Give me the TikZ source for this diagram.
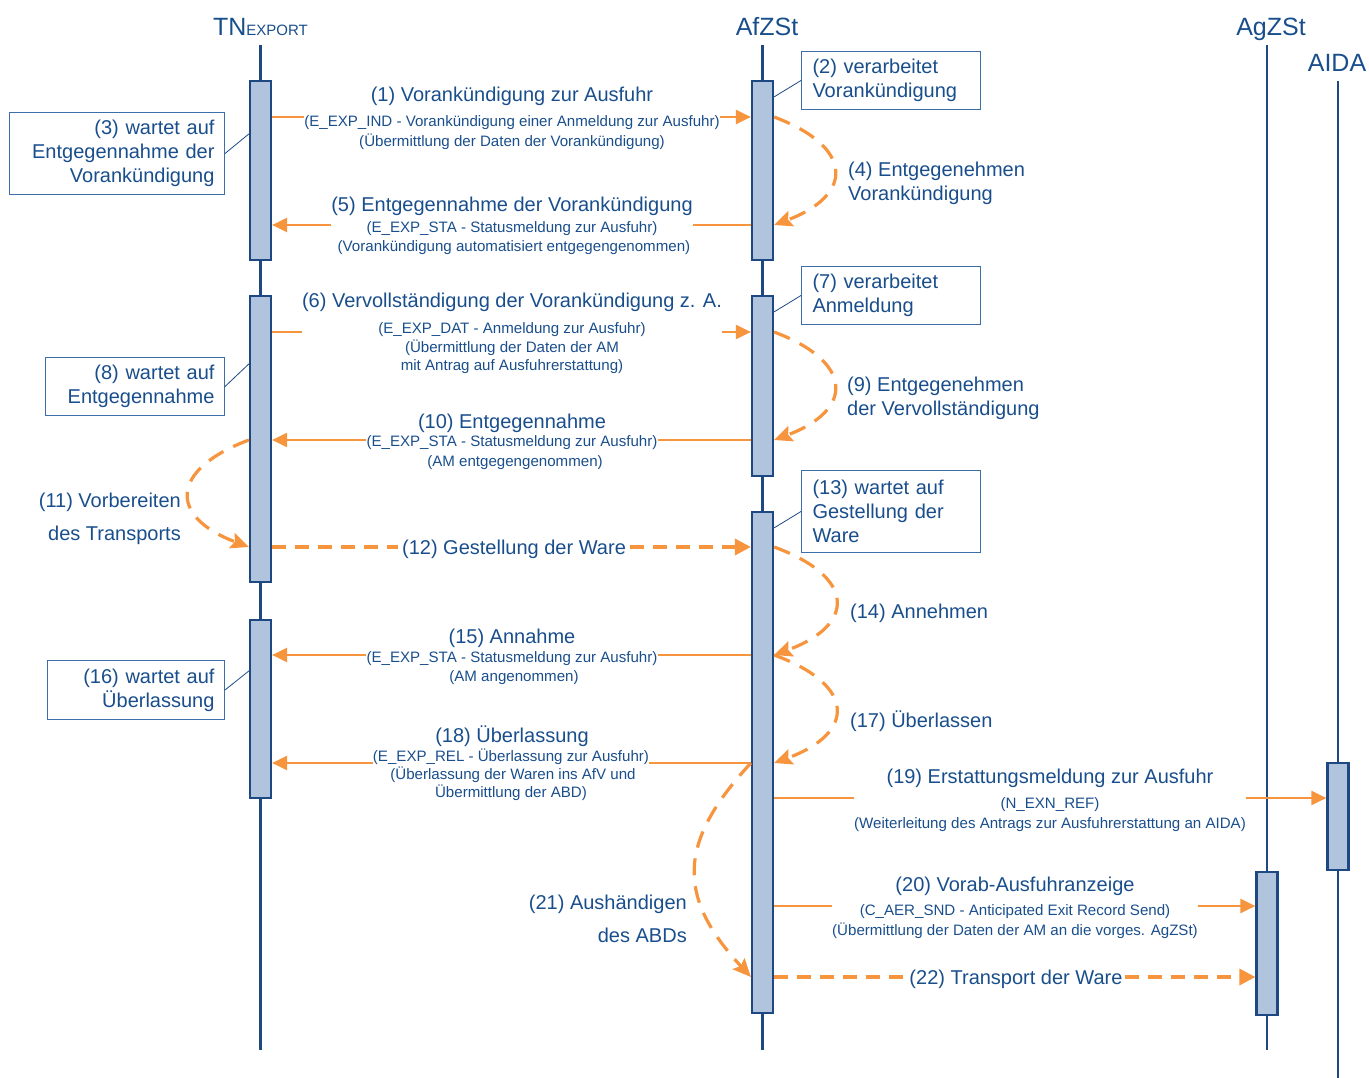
\documentclass[tikz,border=0pt]{standalone}
\usepackage{fontspec}
\setmainfont{Liberation Sans}
\usetikzlibrary{arrows.meta,calc}
\definecolor{txtblue}{RGB}{25,78,140}
\definecolor{lineblue}{RGB}{30,72,130}
\definecolor{actfill}{RGB}{176,196,222}
\definecolor{notebord}{RGB}{60,110,170}
\definecolor{msgorange}{RGB}{247,148,62}

\begin{document}
\begin{tikzpicture}[x=1pt,y=-1pt,
  every node/.style={text=txtblue, inner sep=0pt},
  big/.style={font=\fontsize{20}{24}\selectfont},
  small/.style={font=\fontsize{15.1}{18}\selectfont},
  head/.style={font=\fontsize{25}{30}\selectfont},
  life/.style={draw=lineblue, line width=2.4pt},
  act/.style={draw=lineblue, line width=2.2pt, fill=actfill, minimum width=21pt},
  note/.style={draw=notebord, line width=1pt, fill=white, big, inner xsep=10pt, anchor=north west},
  link/.style={draw=lineblue, line width=0.8pt},
  msg/.style={draw=msgorange, line width=2.2pt},
  msgtip/.style={msg, -{Triangle[length=15pt,width=14pt]}},
  flow/.style={draw=msgorange, line width=3.4pt, dash pattern=on 14pt off 9pt},
  flowtip/.style={flow, -{Triangle[length=16pt,width=16pt]}},
  selfloop/.style={draw=msgorange, line width=3.2pt, dash pattern=on 17pt off 11pt, -{Stealth[length=18pt,width=16pt,inset=3pt]}},
]
\useasboundingbox (0,0) rectangle (1369,1078);

% participants
\node[head, anchor=base] (hTN) at (260.5,36) {TN{\fontsize{15}{18}\selectfont EXPORT}};
\node[head, anchor=base] (hAf) at (767,36) {AfZSt};
\node[head, anchor=base] (hAg) at (1271,36) {AgZSt};
\node[head, anchor=base] (hAI) at (1337,72) {AIDA};

% lifelines
\coordinate (lTN) at (260.5,45);
\coordinate (lAf) at (762.5,45);
\coordinate (lAg) at (1267,45);
\coordinate (lAI) at (1338,81);
\coordinate (bot) at (0,1050);
\coordinate (bot2) at (0,1078);
\draw[life] (lTN) -- (lTN |- bot);
\draw[life] (lAf) -- (lAf |- bot);
\draw[life] (lAg) -- (lAg |- bot);
\draw[life] (lAI) -- (lAI |- bot2);

% activation bars
\node[act, minimum height=179pt] (a1) at (260.5,170.5) {};
\node[act, minimum height=286pt] (a2) at (260.5,439) {};
\node[act, minimum height=178pt] (a3) at (260.5,709) {};
\node[act, minimum height=179pt] (b1) at (762.5,170.5) {};
\node[act, minimum height=180pt] (b2) at (762.5,386) {};
\node[act, minimum height=501pt] (b3) at (762.5,762.5) {};
\node[act, minimum height=143pt] (c1) at (1267,943.5) {};
\node[act, minimum height=107pt] (d1) at (1338,816.5) {};

% message rows
\coordinate (r1) at (0,117);
\coordinate (r5) at (0,225);
\coordinate (r6) at (0,332);
\coordinate (r10) at (0,440);
\coordinate (r12) at (0,547);
\coordinate (r15) at (0,655);
\coordinate (r18) at (0,763);
\coordinate (r19) at (0,798);
\coordinate (r20) at (0,906);
\coordinate (r22) at (0,977);

% (1)
\node[big, anchor=base] (m1a) at (512,102) {(1) Vorankündigung zur Ausfuhr};
\node[small, anchor=base] (m1b) at (512,126.5) {(E\_EXP\_IND - Vorankündigung einer Anmeldung zur Ausfuhr)};
\node[small, anchor=base] (m1c) at (512,146.5) {(Übermittlung der Daten der Vorankündigung)};
\draw[msg] (a1.east |- r1) -- (r1 -| m1b.west);
\draw[msgtip] (r1 -| m1b.east) -- (b1.west |- r1);

% (5)
\node[big, anchor=base] (m5a) at (512,212) {(5) Entgegennahme der Vorankündigung};
\node[small, anchor=base] (m5b) at (512,232.5) {(E\_EXP\_STA - Statusmeldung zur Ausfuhr)};
\node[small, anchor=base] (m5c) at (514,251.5) {(Vorankündigung automatisiert entgegengenommen)};
\draw[msg] (b1.west |- r5) -- (r5 -| m5a.east);
\draw[msgtip] (r5 -| m5a.west) -- (a1.east |- r5);

% (6)
\node[big, anchor=base] (m6a) at (512,308) {(6) Vervollständigung der Vorankündigung z. A.};
\node[small, anchor=base] (m6b) at (512,333.5) {(E\_EXP\_DAT - Anmeldung zur Ausfuhr)};
\node[small, anchor=base] (m6c) at (512,352.5) {(Übermittlung der Daten der AM};
\node[small, anchor=base] (m6d) at (512,370.5) {mit Antrag auf Ausfuhrerstattung)};
\draw[msg] (a2.east |- r6) -- (r6 -| m6a.west);
\draw[msgtip] (r6 -| m6a.east) -- (b2.west |- r6);

% (10)
\node[big, anchor=base] (m10a) at (512,428) {(10) Entgegennahme};
\node[small, anchor=base] (m10b) at (512,446.5) {(E\_EXP\_STA - Statusmeldung zur Ausfuhr)};
\node[small, anchor=base] (m10c) at (515,466.5) {(AM entgegengenommen)};
\draw[msg] (b2.west |- r10) -- (r10 -| m10b.east);
\draw[msgtip] (r10 -| m10b.west) -- (a2.east |- r10);

% (12)
\node[big, anchor=base, inner xsep=4pt] (m12) at (514,554) {(12) Gestellung der Ware};
\draw[flow] (a2.east |- r12) -- (r12 -| m12.west);
\draw[flowtip] (r12 -| m12.east) -- (b3.west |- r12);

% (15)
\node[big, anchor=base] (m15a) at (512,643) {(15) Annahme};
\node[small, anchor=base] (m15b) at (512,662.5) {(E\_EXP\_STA - Statusmeldung zur Ausfuhr)};
\node[small, anchor=base] (m15c) at (514,681.5) {(AM angenommen)};
\draw[msg] (b3.west |- r15) -- (r15 -| m15b.east);
\draw[msgtip] (r15 -| m15b.west) -- (a3.east |- r15);

% (18)
\node[big, anchor=base] (m18a) at (512,742) {(18) Überlassung};
\node[small, anchor=base] (m18b) at (511,761.5) {(E\_EXP\_REL - Überlassung zur Ausfuhr)};
\node[small, anchor=base] (m18c) at (513,779.5) {(Überlassung der Waren ins AfV und};
\node[small, anchor=base] (m18d) at (511,797.5) {Übermittlung der ABD)};
\draw[msg] (b3.west |- r18) -- (r18 -| m18b.east);
\draw[msgtip] (r18 -| m18b.west) -- (a3.east |- r18);

% (19)
\node[big, anchor=base] (m19a) at (1050,783) {(19) Erstattungsmeldung zur Ausfuhr};
\node[small, anchor=base] (m19b) at (1050,808.5) {(N\_EXN\_REF)};
\node[small, anchor=base] (m19c) at (1050,828.5) {(Weiterleitung des Antrags zur Ausfuhrerstattung an AIDA)};
\draw[msg] (b3.east |- r19) -- (r19 -| m19c.west);
\draw[msgtip] (r19 -| m19c.east) -- (d1.west |- r19);

% (20)
\node[big, anchor=base] (m20a) at (1015,891) {(20) Vorab-Ausfuhranzeige};
\node[small, anchor=base] (m20b) at (1015,915.5) {(C\_AER\_SND - Anticipated Exit Record Send)};
\node[small, anchor=base] (m20c) at (1015,935.5) {(Übermittlung der Daten der AM an die vorges. AgZSt)};
\draw[msg] (b3.east |- r20) -- (r20 -| m20c.west);
\draw[msgtip] (r20 -| m20c.east) -- (c1.west |- r20);

% (22)
\node[big, anchor=base, inner xsep=2pt] (m22) at (1016,984) {(22) Transport der Ware};
\draw[flow] (b3.east |- r22) -- (r22 -| m22.west);
\draw[flowtip] (r22 -| m22.east) -- (c1.west |- r22);

% internal steps
\draw[selfloop] (b1.east |- r1) .. controls +(80,30) and +(80,-30) .. (b1.east |- r5);
\node[big, anchor=west, align=left] (l4) at (848,183) {(4) Entgegenehmen\\Vorankündigung};

\draw[selfloop] (b2.east |- r6) .. controls +(80,30) and +(80,-30) .. (b2.east |- r10);
\node[big, anchor=west, align=left] (l9) at (847,398) {(9) Entgegenehmen\\der Vervollständigung};

\draw[selfloop] (b3.east |- r12) .. controls +(82,30) and +(82,-30) .. (b3.east |- r15);
\node[big, anchor=west] (l14) at (850,613) {(14) Annehmen};

\draw[selfloop] (b3.east |- r15) .. controls +(82,30) and +(82,-30) .. (b3.east |- r18);
\node[big, anchor=west] (l17) at (850,721) {(17) Überlassen};

\draw[selfloop] (a2.west |- r10) .. controls +(-80,30) and +(-80,-30) .. (a2.west |- r12);
\node[anchor=east, align=right, font=\fontsize{20}{33}\selectfont] (l11) at (181,518.5) {(11) Vorbereiten\\des Transports};

\draw[selfloop] (b3.west |- r18) .. controls +(-74,80) and +(-74,-80) .. (b3.west |- r22);
\node[anchor=east, align=right, font=\fontsize{20}{33}\selectfont] (l21) at (687,918.5) {(21) Aushändigen\\des ABDs};

% state notes
\node[note, text width=157pt, inner xsep=11pt, align=left, minimum height=58pt] (n2) at (801,51) {(2) verarbeitet\\Vorankündigung};
\node[note, text width=195pt, align=right, minimum height=82pt] (n3) at (9,112) {(3) wartet auf\\Entgegennahme der\\Vorankündigung};
\node[note, text width=157pt, inner xsep=11pt, align=left, minimum height=58pt] (n7) at (801,266) {(7) verarbeitet\\Anmeldung};
\node[note, text width=159pt, align=right, minimum height=58pt] (n8) at (45,357) {(8) wartet auf\\Entgegennahme};
\node[note, text width=157pt, inner xsep=11pt, align=left, minimum height=82pt] (n13) at (801,470) {(13) wartet auf\\Gestellung der\\Ware};
\node[note, text width=157pt, align=right, minimum height=59pt] (n16) at (47,660) {(16) wartet auf\\Überlassung};

\draw[link] (n2.west) -- ($(b1.north east)+(0,17)$);
\draw[link] (n3.east) -- ($(a1.north west)+(0,54)$);
\draw[link] (n7.west) -- ($(b2.north east)+(0,17)$);
\draw[link] (n8.east) -- ($(a2.north west)+(0,69)$);
\draw[link] (n13.west) -- ($(b3.north east)+(0,17)$);
\draw[link] (n16.east) -- ($(a3.north west)+(0,52)$);
\end{tikzpicture}
\end{document}
